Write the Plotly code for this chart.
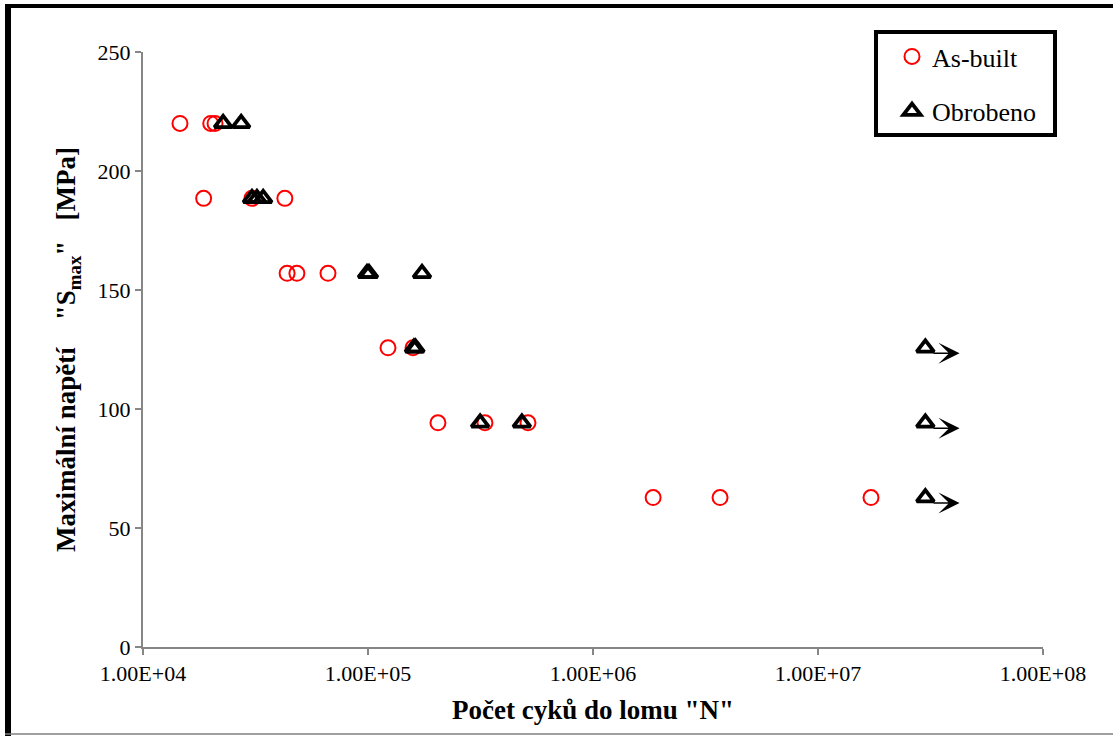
import math
import plotly.graph_objects as go

# Fatigue test results: stress amplitude S_max [MPa] vs. cycles to failure N
as_built_n = [14600, 20000, 20900,
              18600, 30500, 42700,
              43700, 48300, 66400,
              122700, 158500,
              204600, 331000, 514000,
              1.85e6, 3.67e6, 1.72e7]
as_built_s = [220, 220, 220,
              188.5, 188.5, 188.5,
              157, 157, 157,
              125.7, 125.7,
              94.2, 94.2, 94.2,
              62.8, 62.8, 62.8]

machined_n = [22700, 27300,
              30500, 32100, 34200,
              99000, 101000, 173800,
              160000, 162500,
              315000, 483000,
              3.0e7, 3.0e7, 3.0e7]
machined_s = [220, 220,
              188.5, 188.5, 188.5,
              157, 157, 157,
              125.7, 125.7,
              94.2, 94.2,
              125.7, 94.2, 62.8]

# run-outs (specimens that did not fail)
runout_n = [3.0e7, 3.0e7, 3.0e7]
runout_s = [125.7, 94.2, 62.8]

x_tickvals = [1e4, 1e5, 1e6, 1e7, 1e8]
x_ticktext = ["1.00E+04", "1.00E+05", "1.00E+06", "1.00E+07", "1.00E+08"]
y_tickvals = [0, 50, 100, 150, 200, 250]

FONT = "Liberation Serif, Times New Roman, serif"

fig = go.Figure()
fig.add_trace(go.Scatter(
    x=as_built_n, y=as_built_s, mode="markers", name="As-built",
    legendgroup="a",
    marker=dict(symbol="circle-open", size=15, color="#ff0000",
                line=dict(width=2, color="#ff0000")),
))
fig.add_trace(go.Scatter(
    x=machined_n, y=machined_s, mode="markers", name="Obrobeno",
    legendgroup="b",
    marker=dict(symbol="triangle-up-open", size=15, color="#000000",
                line=dict(width=3.8, color="#000000")),
))

# arrows indicating run-outs
for n, s in zip(runout_n, runout_s):
    lx = math.log10(n)
    fig.add_annotation(
        x=lx + 0.152, y=s - 2.3, ax=lx + 0.03, ay=s - 2.3,
        xref="x", yref="y", axref="x", ayref="y",
        showarrow=True, arrowhead=3, arrowsize=2.2, arrowwidth=1.6,
        arrowcolor="#000000", text="",
    )

L, R, T, B = 143, 70, 52, 89
W, H = 1113, 736
pw, ph = W - L - R, H - T - B


def px_x(p):
    return (p - L) / pw


def px_y(p):
    return (H - B - p) / ph


# outer frame
fig.add_shape(type="rect", xref="paper", yref="paper",
              x0=px_x(5), x1=px_x(11), y0=px_y(740), y1=px_y(4),
              fillcolor="#000000", line=dict(width=0))
fig.add_shape(type="rect", xref="paper", yref="paper",
              x0=px_x(5), x1=px_x(1113), y0=px_y(8), y1=px_y(4),
              fillcolor="#000000", line=dict(width=0))
fig.add_shape(type="line", xref="paper", yref="paper",
              x0=px_x(5), x1=px_x(1113), y0=px_y(734), y1=px_y(734),
              line=dict(width=1.5, color="#808080"))
# legend frame
fig.add_shape(type="rect", xref="paper", yref="paper",
              x0=px_x(876), x1=px_x(1055), y0=px_y(135), y1=px_y(32),
              fillcolor="white", line=dict(width=4, color="#000000"),
              layer="above")

fig.update_layout(
    width=W, height=H,
    margin=dict(l=L, r=R, t=T, b=B),
    paper_bgcolor="white", plot_bgcolor="white",
    font=dict(family=FONT, size=22, color="#000000"),
    showlegend=True,
    legend=dict(
        x=px_x(892), y=px_y(33), xanchor="left", yanchor="top",
        borderwidth=0, bgcolor="rgba(0,0,0,0)",
        font=dict(family=FONT, size=26, color="#000000"),
        tracegroupgap=18, itemwidth=30,
    ),
    xaxis=dict(
        type="log", range=[4, 8],
        tickvals=x_tickvals, ticktext=x_ticktext,
        ticks="outside", ticklen=6, tickcolor="#868686", tickwidth=1.5,
        showline=True, linecolor="#868686", linewidth=2,
        showgrid=False, zeroline=False,
        tickfont=dict(family=FONT, size=22),
        title=dict(text="<b>Počet cyků do lomu \"N\"</b>",
                   font=dict(family=FONT, size=27), standoff=15),
    ),
    yaxis=dict(
        range=[0, 250], tickvals=y_tickvals,
        ticks="outside", ticklen=6, tickcolor="#868686", tickwidth=1.5,
        showline=True, linecolor="#868686", linewidth=2,
        showgrid=False, zeroline=False,
        tickfont=dict(family=FONT, size=22),
        title=dict(text="<b>Maximální napětí    \"S<sub>max</sub>\"   [MPa]</b>",
                   font=dict(family=FONT, size=27), standoff=14),
    ),
)

fig.write_html("out.html")
